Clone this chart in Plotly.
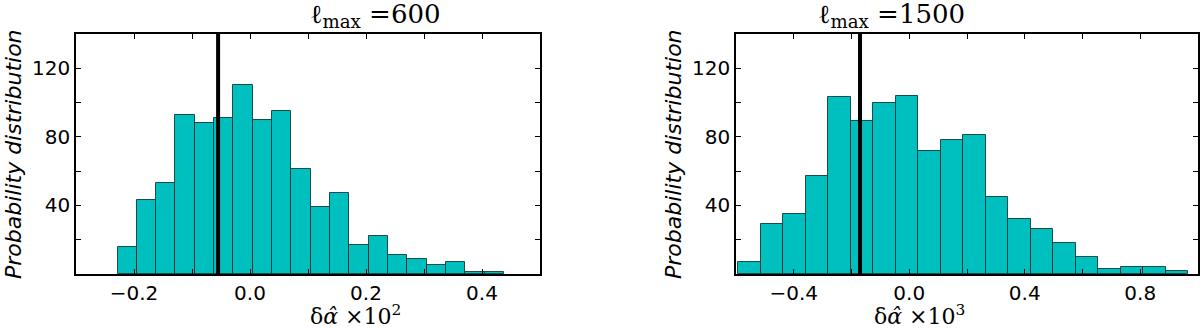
import numpy as np
import plotly.graph_objects as go
from plotly.subplots import make_subplots

# histogram counts
counts_600 = [16, 43, 53, 93, 88, 91, 110, 90, 95, 61, 39, 47, 17, 22, 11, 9, 5, 7, 1, 1]
counts_1500 = [7, 29, 35, 57, 103, 89, 100, 104, 72, 78, 81, 45, 32, 26, 18, 10, 3, 4, 4, 2]

# bin ranges (20 equal bins each)
bins_600 = (-0.2284, 0.4377)
bins_1500 = (-0.593, 0.9655)

# fiducial value marked by the thick vertical line
fid_600 = -0.055
fid_1500 = -0.1705

titles = ["\u2113<sub>max</sub> =600", "\u2113<sub>max</sub> =1500"]
xlabels = ["\u03b4<i>\u03b1\u0302</i> \u00d710<sup>2</sup>", "\u03b4<i>\u03b1\u0302</i> \u00d710<sup>3</sup>"]
ylabel = "Probability distribution"

xranges = [(-0.3, 0.5), (-0.6, 1.0)]
xtick_step = [0.1, 0.2]
xlabel_every = [0.2, 0.4]

FILL = "#00BFBF"
W, H = 1200, 330
DOMAINS = [(76 / W, 540 / W), (736 / W, 1198 / W)]

fig = make_subplots(rows=1, cols=2)

panels = [(counts_600, bins_600, fid_600), (counts_1500, bins_1500, fid_1500)]
for i, (counts, (lo, hi), fid) in enumerate(panels):
    col = i + 1
    edges = np.linspace(lo, hi, len(counts) + 1)
    centers = 0.5 * (edges[:-1] + edges[1:])
    fig.add_trace(go.Bar(
        x=centers, y=counts, width=edges[1] - edges[0],
        marker=dict(color=FILL, line=dict(color="rgba(0,40,40,0.8)", width=1)),
        showlegend=False,
    ), row=1, col=col)
    fig.add_shape(type="line", x0=fid, x1=fid, y0=0, y1=1,
                  xref=f"x{col if col > 1 else ''}", yref=f"y{col if col > 1 else ''} domain",
                  line=dict(color="black", width=4))

    x0, x1 = xranges[i]
    step = xtick_step[i]
    n = int(round((x1 - x0) / step))
    tv = [round(x0 + k * step, 3) for k in range(n + 1)]
    tt = []
    for v in tv:
        if abs(round(v / xlabel_every[i]) * xlabel_every[i] - v) < 1e-6:
            tt.append(f"{v:.1f}".replace("-", "\u2212"))
        else:
            tt.append("")
    fig.update_xaxes(range=[x0, x1], domain=DOMAINS[i], tickvals=tv, ticktext=tt,
                     row=1, col=col)

    yv = list(range(0, 141, 20))
    yt = [str(v) if v in (40, 80, 120) else "" for v in yv]
    fig.update_yaxes(range=[0, 140], tickvals=yv, ticktext=yt, row=1, col=col)

    cx = (DOMAINS[i][0] + DOMAINS[i][1]) / 2
    fig.add_annotation(text=titles[i], x=cx, y=1, xref="paper", yref="paper",
                       yanchor="bottom", yshift=0, showarrow=False,
                       font=dict(family="DejaVu Serif", size=26, color="black"))
    fig.add_annotation(text=xlabels[i], x=cx, y=0, xref="paper", yref="paper",
                       yanchor="top", yshift=-25, showarrow=False,
                       font=dict(family="DejaVu Serif", size=22, color="black"))
    fig.add_annotation(text=ylabel, x=DOMAINS[i][0], y=0.5, xref="paper", yref="paper",
                       xanchor="center", xshift=-63, textangle=-90, showarrow=False,
                       font=dict(family="DejaVu Sans", size=22, color="black",
                                 style="italic"))

axis_style = dict(showline=True, linecolor="black", linewidth=1.5, mirror="ticks",
                  ticks="inside", ticklen=5, tickwidth=1, tickcolor="black",
                  showgrid=False, zeroline=False,
                  tickfont=dict(family="DejaVu Sans", size=20, color="black"))
fig.update_xaxes(**axis_style)
fig.update_yaxes(**axis_style)

fig.update_layout(
    width=W, height=H,
    margin=dict(l=0, r=0, t=34, b=56),
    plot_bgcolor="white", paper_bgcolor="white",
    bargap=0,
)

# page body has a default 8px margin; drop it so the figure sits at the corner
fig.write_html("out.html", config={"displayModeBar": False},
               post_script="document.body.style.margin='0';")
